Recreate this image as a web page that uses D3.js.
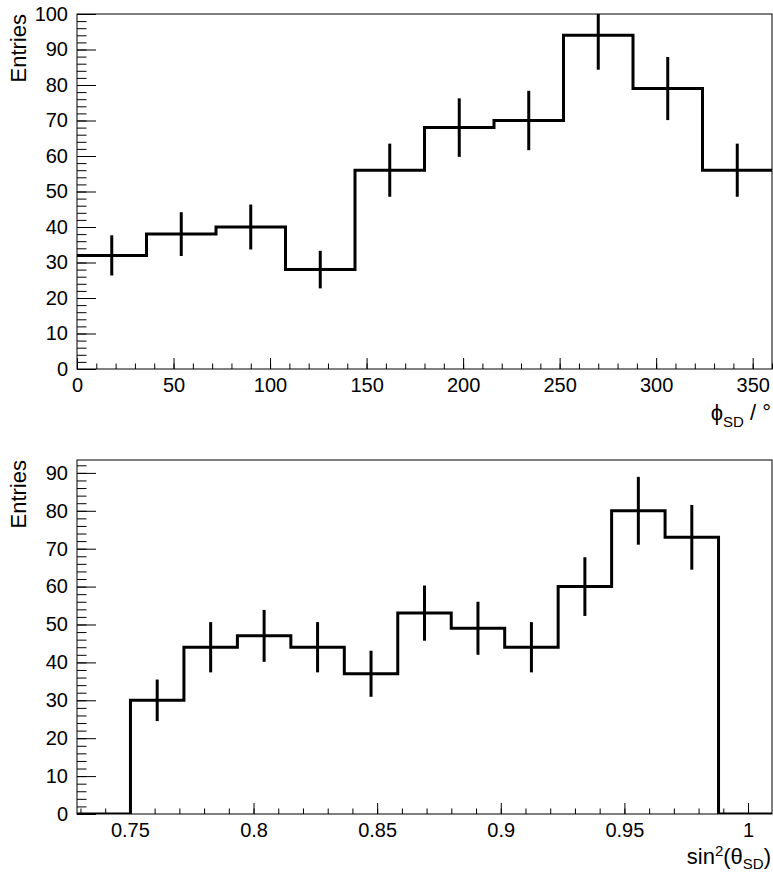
<!DOCTYPE html>
<html>
<head>
<meta charset="utf-8">
<script src="https://cdn.jsdelivr.net/npm/d3@7"></script>
<style>
  body { margin: 0; background: #fff; }
  text { font-family: "Liberation Sans", Arial, Helvetica, sans-serif; fill: #000; }
</style>
</head>
<body>
<div id="chart"></div>
<script>
// top histogram: phi_SD in degrees, 10 bins of 36
const phiRange = [0, 360];
const phiCounts = [32, 38, 40, 28, 56, 68, 70, 94, 79, 56];
const phiXTicks = [0, 50, 100, 150, 200, 250, 300, 350];
const phiYTicks = [0, 10, 20, 30, 40, 50, 60, 70, 80, 90, 100];
const phiYMax = 100;

// bottom histogram: sin^2(theta_SD), 13 bins
const sinRange = [0.7286, 1.0097];
const sinCounts = [0, 30, 44, 47, 44, 37, 53, 49, 44, 60, 80, 73, 0];
const sinXTicks = [0.75, 0.8, 0.85, 0.9, 0.95, 1];
const sinYTicks = [0, 10, 20, 30, 40, 50, 60, 70, 80, 90];
const sinYMax = 93.4;

const W = 773, H = 872;
const svg = d3.select("#chart").append("svg")
    .attr("width", W).attr("height", H);

function drawPanel(opt) {
    const { top, bottom, left, right, range, counts, xTicks, xMinor, yTicks, yMinor, yMax, fmt, id } = opt;
    const x = d3.scaleLinear().domain(range).range([left, right]);
    const y = d3.scaleLinear().domain([0, yMax]).range([bottom, top]);
    const n = counts.length;
    const bw = (range[1] - range[0]) / n;

    // clip to the frame
    svg.append("clipPath").attr("id", id)
        .append("rect").attr("x", left).attr("y", top)
        .attr("width", right - left).attr("height", bottom - top);

    // minor ticks
    svg.append("g").attr("transform", `translate(0,${bottom})`)
        .call(d3.axisBottom(x).tickValues(xMinor).tickSize(-5.5).tickFormat(""))
        .call(g => g.select(".domain").remove());
    svg.append("g").attr("transform", `translate(${left},0)`)
        .call(d3.axisLeft(y).tickValues(yMinor).tickSize(-9.5).tickFormat(""))
        .call(g => g.select(".domain").remove());

    // major ticks + labels
    svg.append("g").attr("transform", `translate(0,${bottom})`)
        .call(d3.axisBottom(x).tickValues(xTicks).tickSize(-11).tickPadding(9).tickFormat(fmt))
        .call(g => g.select(".domain").remove())
        .call(g => g.selectAll("text").attr("font-size", 20).attr("font-family", null));
    svg.append("g").attr("transform", `translate(${left},0)`)
        .call(d3.axisLeft(y).tickValues(yTicks).tickSize(-19).tickPadding(9))
        .call(g => g.select(".domain").remove())
        .call(g => g.selectAll("text").attr("font-size", 20).attr("font-family", null));

    svg.selectAll(".tick line").attr("stroke", "#000").attr("stroke-width", 1);

    // frame
    svg.append("rect")
        .attr("x", left).attr("y", top)
        .attr("width", right - left).attr("height", bottom - top)
        .attr("fill", "none").attr("stroke", "#000").attr("stroke-width", 1);

    // step outline
    const pts = [];
    counts.forEach((c, i) => {
        pts.push([range[0] + i * bw, c]);
        pts.push([range[0] + (i + 1) * bw, c]);
    });
    const g = svg.append("g").attr("clip-path", `url(#${id})`);
    g.append("path")
        .datum(pts)
        .attr("fill", "none")
        .attr("stroke", "#000")
        .attr("stroke-width", 3)
        .attr("d", d3.line().x(d => x(d[0])).y(d => y(d[1])));

    // sqrt(N) error bars
    g.selectAll("line.err")
        .data(counts.map((c, i) => ({ c, i })).filter(d => d.c > 0))
        .join("line")
        .attr("class", "err")
        .attr("x1", d => x(range[0] + (d.i + 0.5) * bw))
        .attr("x2", d => x(range[0] + (d.i + 0.5) * bw))
        .attr("y1", d => y(d.c - Math.sqrt(d.c)))
        .attr("y2", d => y(d.c + Math.sqrt(d.c)))
        .attr("stroke", "#000")
        .attr("stroke-width", 3);

    // y title
    svg.append("text")
        .attr("transform", `translate(26,${top}) rotate(-90)`)
        .attr("text-anchor", "end")
        .attr("font-size", 22)
        .text("Entries");
}

drawPanel({
    id: "clipTop", top: 14, bottom: 369, left: 77, right: 772,
    range: phiRange, counts: phiCounts,
    xTicks: phiXTicks, xMinor: d3.range(0, 361, 10),
    yTicks: phiYTicks, yMinor: d3.range(0, 101, 2),
    yMax: phiYMax, fmt: d3.format("d")
});

drawPanel({
    id: "clipBot", top: 460, bottom: 814, left: 77, right: 772,
    range: sinRange, counts: sinCounts,
    xTicks: sinXTicks, xMinor: d3.range(73, 101).map(v => v / 100),
    yTicks: sinYTicks, yMinor: d3.range(0, 93, 2),
    yMax: sinYMax, fmt: d => d === 1 ? "1" : d3.format(".2~f")(d)
});

// x titles
const t1 = svg.append("text")
    .attr("x", 771).attr("y", 420)
    .attr("text-anchor", "end").attr("font-size", 22);
t1.append("tspan").text("\u03d5");
t1.append("tspan").attr("font-size", 15).attr("dy", 7).text("SD");
t1.append("tspan").attr("dy", -7).text(" / \u00b0");

const t2 = svg.append("text")
    .attr("x", 771).attr("y", 864)
    .attr("text-anchor", "end").attr("font-size", 22);
t2.append("tspan").text("sin");
t2.append("tspan").attr("font-size", 15).attr("dy", -8).text("2");
t2.append("tspan").attr("dy", 8).text("(\u03b8");
t2.append("tspan").attr("font-size", 15).attr("dy", 5).text("SD");
t2.append("tspan").attr("dy", -5).text(")");
</script>
</body>
</html>
